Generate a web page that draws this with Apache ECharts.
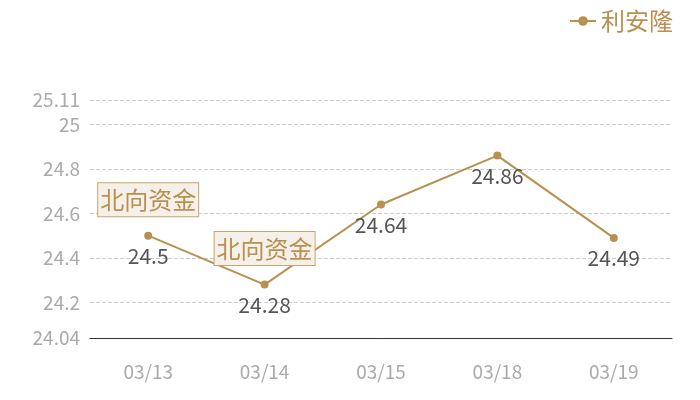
<!DOCTYPE html>
<html>
<head>
<meta charset="utf-8">
<script src="https://cdn.jsdelivr.net/npm/echarts@6/dist/echarts.min.js"></script>
<style>
  html, body { margin: 0; padding: 0; background: #fff; }
  #charts { width: 700px; height: 400px; }
</style>
</head>
<body>
<div id="charts"></div>
<script>
var dates = ['03/13', '03/14', '03/15', '03/18', '03/19'];
var prices = [24.5, 24.28, 24.64, 24.86, 24.49];
var flagDates = ['03/13', '03/14'];
var flagValues = [24.5, 24.28];
var flagText = '北向资金';
var seriesName = '利安隆';
var yMin = 24.04;
var yMax = 25.11;

var gold = '#b8904f';
var chartDom = document.getElementById('charts');
var myChart = echarts.init(chartDom);
var option = {
  textStyle: { fontFamily: 'Noto Sans CJK SC' },
  legend: {
    right: 22,
    top: 4,
    itemWidth: 26,
    itemHeight: 12,
    itemGap: 6,
    textStyle: { color: gold, fontSize: 24 },
    data: [seriesName]
  },
  grid: { left: 90, right: 28, top: 100, bottom: 62 },
  xAxis: {
    type: 'category',
    data: dates,
    axisLine: { lineStyle: { color: '#333' } },
    axisTick: { show: false },
    axisLabel: { color: '#aaa', fontSize: 19, margin: 24 }
  },
  yAxis: {
    type: 'value',
    min: yMin,
    max: yMax,
    splitNumber: 5,
    axisLine: { show: false },
    axisTick: { show: false },
    axisLabel: { color: '#aaa', fontSize: 19, margin: 10, showMinLabel: true, showMaxLabel: true },
    splitLine: { lineStyle: { color: '#ccc', type: 'dashed' } }
  },
  series: [{
    name: seriesName,
    type: 'line',
    data: prices,
    symbol: 'circle',
    symbolSize: 8,
    itemStyle: { color: gold },
    lineStyle: { color: gold, width: 2 },
    label: { show: true, position: 'bottom', color: '#555', fontSize: 21, distance: 6 },
    markPoint: {
      symbol: 'circle',
      symbolSize: 0,
      data: flagDates.map(function (d, i) {
        return { coord: [d, flagValues[i]], value: flagText };
      }),
      label: {
        show: true,
        formatter: flagText,
        color: gold,
        fontSize: 24,
        backgroundColor: '#f5f0ea',
        borderColor: '#c9a56e',
        borderWidth: 1,
        padding: [5, 2, 4, 2],
        offset: [0, -36]
      }
    }
  }]
};
option && myChart.setOption(option);
</script>
</body>
</html>
